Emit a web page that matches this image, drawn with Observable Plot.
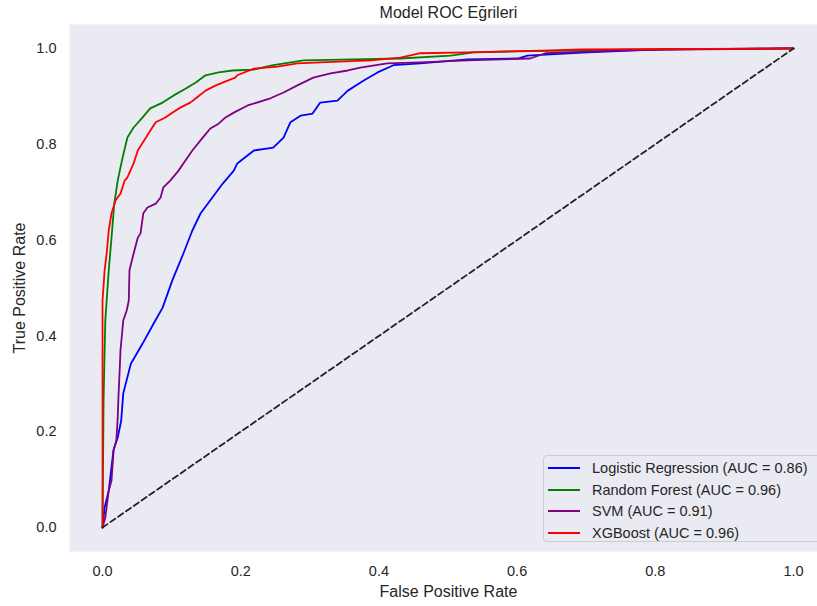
<!DOCTYPE html>
<html>
<head>
<meta charset="utf-8">
<script src="https://cdn.jsdelivr.net/npm/d3@7"></script>
<script src="https://cdn.jsdelivr.net/npm/@observablehq/plot@0.6"></script>
<style>
  html, body { margin: 0; padding: 0; background: #ffffff; overflow: hidden; }
  #wrap { position: relative; width: 817px; height: 606px; overflow: hidden; font-family: "Liberation Sans", Arial, sans-serif; }
  #legend { position: absolute; left: 543px; top: 455px; width: 300px; height: 87px; box-sizing: border-box;
    border: 1px solid #cccccc; border-radius: 4px; background: rgba(234,234,242,0.8); }
  .row { position: absolute; left: 4px; height: 20px; display: flex; align-items: center; color: #262626; font-size: 14.5px; white-space: nowrap; }
  .swatch { width: 32px; height: 0; border-top: 2px solid; margin-right: 12px; }
</style>
</head>
<body>
<div id="wrap"></div>
<script>
// ---- data ----
const modelNames = ["Logistic Regression", "Random Forest", "SVM", "XGBoost"];
const modelAUC = [0.86, 0.96, 0.91, 0.96];
const modelColors = ["#0000ff", "#008000", "#800080", "#ff0000"];

const lrFpr = [0, 0.003, 0.009, 0.016, 0.022, 0.027, 0.030, 0.041, 0.058, 0.074, 0.087, 0.101, 0.117, 0.130, 0.142, 0.159, 0.174, 0.190, 0.195, 0.219, 0.247, 0.262, 0.272, 0.287, 0.304, 0.315, 0.340, 0.355, 0.378, 0.398, 0.421, 0.460, 0.528, 0.601, 0.615, 0.702, 0.808, 1];
const lrTpr = [0, 0.042, 0.077, 0.163, 0.188, 0.223, 0.280, 0.342, 0.384, 0.426, 0.459, 0.516, 0.572, 0.620, 0.656, 0.689, 0.718, 0.745, 0.760, 0.787, 0.793, 0.814, 0.846, 0.860, 0.864, 0.887, 0.891, 0.912, 0.933, 0.950, 0.965, 0.969, 0.977, 0.979, 0.985, 0.992, 0.998, 1];

const rfFpr = [0, 0.0015, 0.004, 0.009, 0.013, 0.017, 0.022, 0.025, 0.029, 0.036, 0.045, 0.058, 0.069, 0.087, 0.103, 0.120, 0.135, 0.149, 0.168, 0.188, 0.219, 0.247, 0.291, 0.363, 0.431, 0.504, 0.537, 0.601, 0.779, 1];
const rfTpr = [0, 0.265, 0.432, 0.537, 0.605, 0.676, 0.724, 0.745, 0.772, 0.814, 0.835, 0.856, 0.875, 0.887, 0.902, 0.916, 0.929, 0.944, 0.950, 0.954, 0.956, 0.965, 0.975, 0.977, 0.979, 0.985, 0.992, 0.994, 0.998, 1];

const svmFpr = [0, 0.004, 0.009, 0.013, 0.016, 0.020, 0.022, 0.023, 0.025, 0.026, 0.030, 0.035, 0.038, 0.039, 0.045, 0.051, 0.055, 0.059, 0.065, 0.077, 0.084, 0.088, 0.098, 0.110, 0.117, 0.130, 0.145, 0.156, 0.168, 0.178, 0.190, 0.210, 0.243, 0.262, 0.282, 0.305, 0.330, 0.355, 0.373, 0.412, 0.460, 0.528, 0.619, 0.641, 0.749, 0.865, 1];
const svmTpr = [0, 0.021, 0.077, 0.098, 0.161, 0.182, 0.230, 0.271, 0.334, 0.370, 0.432, 0.453, 0.474, 0.537, 0.572, 0.605, 0.614, 0.656, 0.668, 0.676, 0.689, 0.710, 0.724, 0.745, 0.760, 0.787, 0.814, 0.833, 0.843, 0.856, 0.866, 0.881, 0.896, 0.908, 0.923, 0.939, 0.948, 0.954, 0.960, 0.969, 0.971, 0.975, 0.979, 0.990, 0.996, 0.998, 1];

const xgbFpr = [0, 0, 0.0015, 0.003, 0.006, 0.009, 0.013, 0.019, 0.026, 0.032, 0.036, 0.045, 0.051, 0.062, 0.072, 0.077, 0.091, 0.101, 0.113, 0.127, 0.137, 0.149, 0.164, 0.181, 0.192, 0.195, 0.219, 0.253, 0.282, 0.315, 0.388, 0.431, 0.460, 0.528, 0.648, 0.692, 1];
const xgbTpr = [0, 0.474, 0.505, 0.537, 0.572, 0.620, 0.656, 0.683, 0.697, 0.724, 0.731, 0.760, 0.787, 0.812, 0.835, 0.846, 0.856, 0.866, 0.877, 0.887, 0.898, 0.912, 0.923, 0.933, 0.939, 0.944, 0.958, 0.962, 0.969, 0.971, 0.975, 0.981, 0.990, 0.992, 0.996, 0.998, 1];

const chanceFpr = [0, 1];
const chanceTpr = [0, 1];
const xTicks = [0, 0.2, 0.4, 0.6, 0.8, 1.0];
const yTicks = [0, 0.2, 0.4, 0.6, 0.8, 1.0];

// ---- build table ----
const series = [[lrFpr, lrTpr], [rfFpr, rfTpr], [svmFpr, svmTpr], [xgbFpr, xgbTpr]];
const rows = [];
series.forEach(([f, t], i) => f.forEach((v, j) => rows.push({model: modelNames[i], fpr: v, tpr: t[j]})));
const chance = chanceFpr.map((v, i) => ({fpr: v, tpr: chanceTpr[i]}));

const txt = "#262626";
const chart = Plot.plot({
  width: 817,
  height: 606,
  marginLeft: 69,
  marginRight: 0,
  marginTop: 24,
  marginBottom: 55,
  style: {fontFamily: '"Liberation Sans", Arial, sans-serif', fontSize: "14.5px", color: txt, background: "#ffffff"},
  x: {domain: [-0.0478, 1.0347]},
  y: {domain: [-0.05, 1.05]},
  color: {domain: modelNames, range: modelColors},
  marks: [
    Plot.frame({fill: "#eaeaf2", stroke: null}),
    Plot.axisX({ticks: xTicks, tickSize: 0, tickPadding: 14, tickFormat: d3.format(".1f"), label: null, fill: txt}),
    Plot.axisY({ticks: yTicks, tickSize: 0, tickPadding: 13, tickFormat: d3.format(".1f"), label: null, fill: txt}),
    Plot.line(rows, {x: "fpr", y: "tpr", z: "model", stroke: "model", strokeWidth: 1.8}),
    Plot.line(chance, {x: "fpr", y: "tpr", stroke: "#222222", strokeWidth: 1.8, strokeDasharray: "6,3.5"}),
    Plot.text(["False Positive Rate"], {frameAnchor: "bottom", lineAnchor: "middle", textAnchor: "middle", dx: 5, dy: 40, fontSize: 16, fill: txt}),
    Plot.text(["True Positive Rate"], {frameAnchor: "left", lineAnchor: "middle", textAnchor: "middle", dx: -50, rotate: -90, fontSize: 16, fill: txt}),
    Plot.text(["Model ROC Eğrileri"], {frameAnchor: "top", lineAnchor: "middle", textAnchor: "middle", dx: 5, dy: -12, fontSize: 16, fill: txt})
  ]
});
const wrap = document.getElementById("wrap");
wrap.appendChild(chart);

// ---- legend ----
const legend = document.createElement("div");
legend.id = "legend";
modelNames.forEach((name, i) => {
  const row = document.createElement("div");
  row.className = "row";
  row.style.top = (2 + i * 21.7) + "px";
  const sw = document.createElement("span");
  sw.className = "swatch";
  sw.style.borderTopColor = modelColors[i];
  const label = document.createElement("span");
  label.textContent = `${name} (AUC = ${modelAUC[i].toFixed(2)})`;
  row.appendChild(sw);
  row.appendChild(label);
  legend.appendChild(row);
});
wrap.appendChild(legend);
</script>
</body>
</html>
